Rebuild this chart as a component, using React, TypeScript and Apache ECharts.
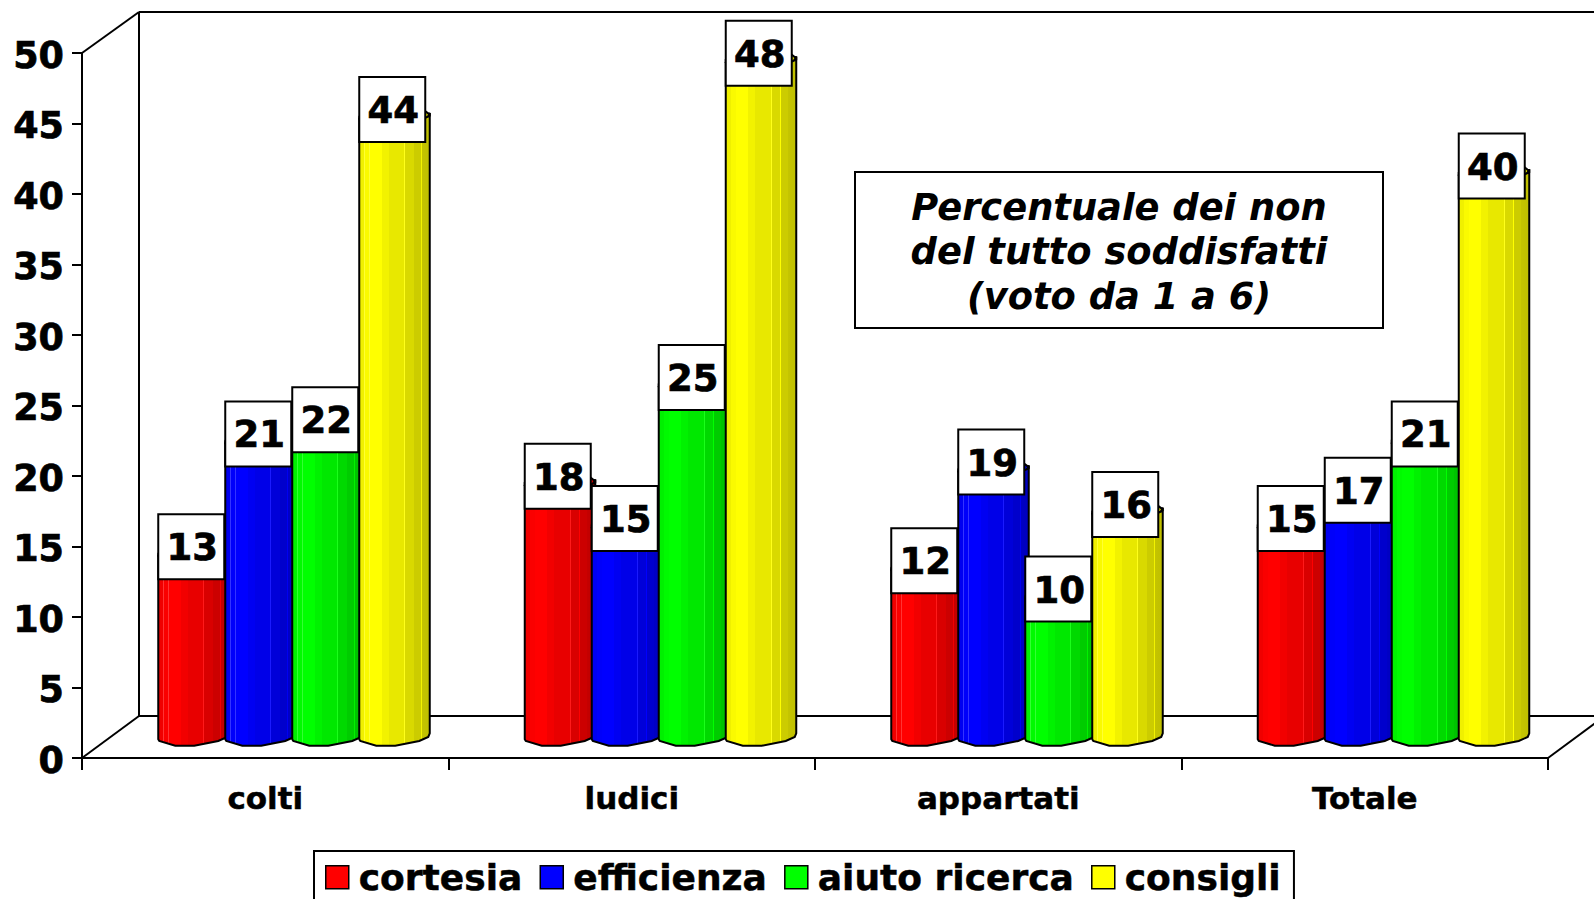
import React, { useEffect, useRef } from "react";
import * as echarts from "echarts";

const categories = ["colti", "ludici", "appartati", "Totale"];
const seriesNames = ["cortesia", "efficienza", "aiuto ricerca", "consigli"];
const cortesia = [13, 18, 12, 15];
const efficienza = [21, 15, 19, 17];
const aiutoRicerca = [22, 25, 10, 21];
const consigli = [44, 48, 16, 40];
const seriesValues = [cortesia, efficienza, aiutoRicerca, consigli];
const seriesColors = [[255, 0, 0], [0, 0, 255], [0, 255, 0], [255, 255, 0]];
const FONT = '"DejaVu Sans", Verdana, sans-serif';

// plot frame
const L = 82, T = 53, W = 1466, H = 705, DX = 57, DY = 42;
// cylinder geometry relative to the bar's left edge and the mapped value
const BAR_STEP = 67, BOX_W = 66, BOX_H = 65, BOX_DROP = 4.5;
const frontArc: number[][] = [[0, -18.7], [1, -17], [17, -12.3], [36, -12.3], [60, -17], [69, -21], [70.5, -24.7]];
const backArc: number[][] = [[70.5, -23], [66, -26.5], [50, -31], [30, -31], [8, -26], [0, -18.7]];
const facets: number[][] = [
  [0, 0.94], [0.07, 0.94], [0.07, 1.2], [0.08, 1.2], [0.08, 0.98], [0.14, 0.98], [0.14, 1.2], [0.15, 1.2], [0.15, 1],
  [0.32, 1], [0.32, 0.95], [0.42, 0.95], [0.42, 0.91], [0.64, 0.91], [0.64, 1.1], [0.65, 1.1], [0.65, 0.85],
  [0.77, 0.85], [0.77, 1.0], [0.78, 1.0], [0.78, 0.8], [0.88, 0.8], [0.88, 0.95], [0.89, 0.95], [0.89, 0.77], [1, 0.75],
];

function shade(rgb: number[], f: number) {
  const c = rgb.map((v) => (f > 1 ? Math.round(v + (255 - v) * (f - 1)) : Math.round(v * f)));
  return `rgb(${c[0]},${c[1]},${c[2]})`;
}

function renderCylinder(params: any, api: any) {
  const s = params.seriesIndex;
  const cat = api.value(0);
  const val = api.value(1);
  const [cx, y1] = api.coord([cat, val]);
  const [, y0] = api.coord([cat, 0]);
  const left = cx + DX / 2 - 135.5 + s * BAR_STEP;
  const rgb = seriesColors[s];
  const body = [
    ...frontArc.map((p) => [left + p[0], y1 + p[1]]),
    ...frontArc.slice().reverse().map((p) => [left + p[0], y0 + p[1]]),
  ];
  const cap = [
    ...frontArc.map((p) => [left + p[0], y1 + p[1]]),
    ...backArc.map((p) => [left + p[0], y1 + p[1]]),
  ];
  const fill = new echarts.graphic.LinearGradient(
    0, 0, 1, 0,
    facets.map((f) => ({ offset: f[0], color: shade(rgb, f[1]) }))
  );
  return {
    type: "group",
    children: [
      { type: "polygon", shape: { points: cap }, style: { fill: shade(rgb, 0.8), stroke: "#000", lineWidth: 2 } },
      { type: "polygon", shape: { points: body }, style: { fill, stroke: "#000", lineWidth: 2 } },
      {
        type: "rect",
        shape: { x: left, y: y1 + BOX_DROP - BOX_H, width: BOX_W, height: BOX_H },
        style: { fill: "#fff", stroke: "#000", lineWidth: 2 },
      },
      {
        type: "text",
        x: left + BOX_W / 2 + 1,
        y: y1 + BOX_DROP - BOX_H / 2 + 1,
        style: {
          text: String(val),
          fill: "#000",
          stroke: "#000",
          lineWidth: 0.7,
          font: `bold 37px ${FONT}`,
          align: "center",
          verticalAlign: "middle",
        },
      },
    ],
  };
}

const frameLine = (x1: number, y1: number, x2: number, y2: number) => ({
  type: "line",
  z: 0,
  shape: { x1, y1, x2, y2 },
  style: { stroke: "#000", lineWidth: 2 },
});

export default function App() {
  const ref = useRef<HTMLDivElement>(null);
  useEffect(() => {
    const chart = echarts.init(ref.current!, null, { renderer: "svg" });
    chart.setOption({
      animation: false,
      backgroundColor: "#fff",
      title: {
        text: "Percentuale dei non\ndel tutto soddisfatti\n(voto da 1 a 6)",
        left: 1063,
        top: 172,
        textAlign: "center",
        padding: [13, 56, 10, 56],
        borderColor: "#000",
        borderWidth: 2,
        backgroundColor: "#fff",
        textStyle: {
          fontFamily: FONT,
          fontWeight: "bold",
          fontStyle: "italic",
          fontSize: 36.8,
          lineHeight: 44.5,
          color: "#000",
        },
      },
      legend: {
        left: 314,
        top: 851,
        orient: "horizontal",
        padding: [8, 13, 12, 11],
        itemGap: 17,
        itemWidth: 23,
        itemHeight: 23,
        borderColor: "#000",
        borderWidth: 2,
        backgroundColor: "#fff",
        icon: "rect",
        selectedMode: false,
        itemStyle: { borderColor: "#000", borderWidth: 1.5 },
        textStyle: {
          fontFamily: FONT,
          fontWeight: "bold",
          fontSize: 36,
          color: "#000",
          padding: [0, 0, 0, 5],
          textBorderColor: "#000",
          textBorderWidth: 0.5,
        },
        data: seriesNames,
      },
      grid: { left: L, top: T, width: W, height: H, containLabel: false },
      xAxis: {
        type: "category",
        data: categories,
        boundaryGap: true,
        axisLine: { lineStyle: { color: "#000", width: 2 } },
        axisTick: { show: true, length: 12, inside: false, lineStyle: { color: "#000", width: 2 } },
        axisLabel: {
          fontFamily: FONT,
          fontWeight: "bold",
          fontSize: 31,
          color: "#000",
          margin: 24,
          textBorderColor: "#000",
          textBorderWidth: 0.5,
        },
        splitLine: { show: false },
      },
      yAxis: {
        type: "value",
        min: 0,
        max: 50,
        interval: 5,
        axisLine: { show: true, lineStyle: { color: "#000", width: 2 } },
        axisTick: { show: true, length: 10, lineStyle: { color: "#000", width: 2 } },
        axisLabel: {
          margin: 18,
          formatter: "{a|{value}}",
          rich: {
            a: {
              fontFamily: FONT,
              fontWeight: "bold",
              fontSize: 36.5,
              color: "#000",
              padding: [4, 0, 0, 0],
              textBorderColor: "#000",
              textBorderWidth: 0.7,
            },
          },
        },
        splitLine: { show: false },
      },
      graphic: [
        frameLine(L, T + H, L + DX, T + H - DY),
        frameLine(L, T, L + DX, T - DY + 1),
        frameLine(L + DX, T - DY + 1, L + DX, T + H - DY),
        frameLine(L + DX, T - DY + 1, 1594, T - DY + 1),
        frameLine(L + DX, T + H - DY, 1594, T + H - DY),
        frameLine(L + W, T + H, L + W + DX, T + H - DY),
      ],
      series: seriesNames.map((name, i) => ({
        name,
        type: "custom",
        renderItem: renderCylinder,
        itemStyle: { color: shade(seriesColors[i], 1) },
        encode: { x: 0, y: 1 },
        data: seriesValues[i].map((v, c) => [c, v]),
        z: 2 + i,
      })),
    });
    return () => chart.dispose();
  }, []);
  return <div ref={ref} style={{ position: "absolute", left: 0, top: 0, width: 1594, height: 899 }} />;
}
